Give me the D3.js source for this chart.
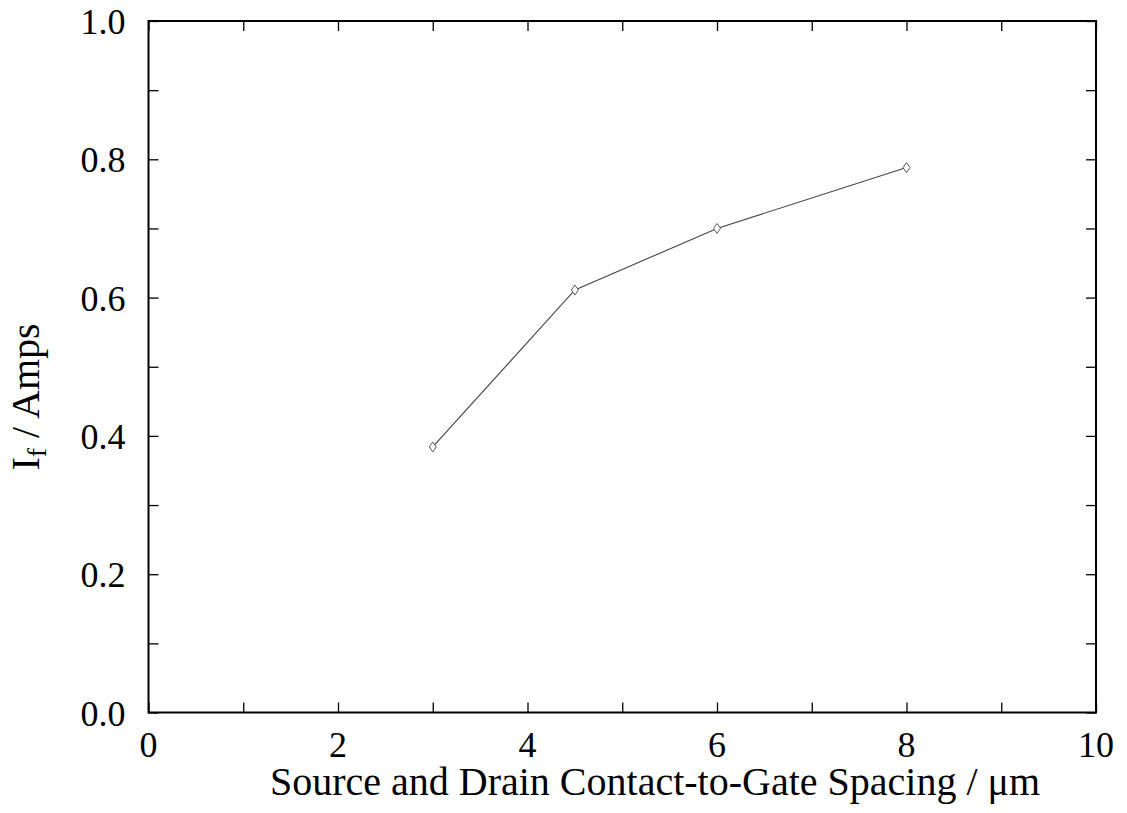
<!DOCTYPE html>
<html>
<head>
<meta charset="utf-8">
<script src="https://cdn.jsdelivr.net/npm/d3@7"></script>
<style>
  html, body { margin: 0; padding: 0; background: #fff; }
  svg { display: block; }
  text { font-family: "Liberation Serif", "Times New Roman", serif; fill: #000; }
</style>
</head>
<body>
<svg id="chart" width="1127" height="813"></svg>
<script>
// Contact-to-gate spacing (µm) and measured current (A)
const spacing = [3, 4.5, 6, 8];
const current = [0.384, 0.611, 0.700, 0.788];
const xTickLabels = [0, 2, 4, 6, 8, 10];
const yTickLabels = [0.0, 0.2, 0.4, 0.6, 0.8, 1.0];

const W = 1127, H = 813;
const margin = { left: 148.5, right: W - 1096, top: 21, bottom: H - 712.5 };

const svg = d3.select("#chart");

const x = d3.scaleLinear().domain([0, 10]).range([margin.left, W - margin.right]);
const y = d3.scaleLinear().domain([0, 1]).range([H - margin.bottom, margin.top]);

const tickLen = 10;
const tickFont = 36;
const titleFont = 40;

// Frame
svg.append("rect")
  .attr("x", x(0)).attr("y", y(1))
  .attr("width", x(10) - x(0)).attr("height", y(0) - y(1))
  .attr("fill", "none").attr("stroke", "#000").attr("stroke-width", 2);

// Inward ticks on all four sides
const xMinor = d3.range(0, 11, 1);
const yMinor = d3.range(0, 11, 1).map(d => d / 10);

const bottomAxis = d3.axisBottom(x).tickValues(xMinor).tickSize(-tickLen).tickFormat("");
const topAxis = d3.axisTop(x).tickValues(xMinor).tickSize(-tickLen).tickFormat("");
const leftAxis = d3.axisLeft(y).tickValues(yMinor).tickSize(-tickLen).tickFormat("");
const rightAxis = d3.axisRight(y).tickValues(yMinor).tickSize(-tickLen).tickFormat("");

function styleAxis(g) {
  g.select(".domain").remove();
  g.selectAll(".tick line").attr("stroke", "#000").attr("stroke-width", 1.3);
}

svg.append("g").attr("transform", `translate(0,${y(0)})`).call(bottomAxis).call(styleAxis);
svg.append("g").attr("transform", `translate(0,${y(1)})`).call(topAxis).call(styleAxis);
svg.append("g").attr("transform", `translate(${x(0)},0)`).call(leftAxis).call(styleAxis);
svg.append("g").attr("transform", `translate(${x(10)},0)`).call(rightAxis).call(styleAxis);

// Tick labels
svg.append("g").selectAll("text")
  .data(xTickLabels)
  .join("text")
  .attr("x", d => x(d))
  .attr("y", y(0) + 44)
  .attr("text-anchor", "middle")
  .attr("font-size", tickFont)
  .text(d => d);

svg.append("g").selectAll("text")
  .data(yTickLabels)
  .join("text")
  .attr("x", x(0) - 23)
  .attr("y", d => y(d) + 13)
  .attr("text-anchor", "end")
  .attr("font-size", tickFont)
  .text(d => d.toFixed(1));

// Axis titles
svg.append("text")
  .attr("x", 655)
  .attr("y", 795)
  .attr("text-anchor", "middle")
  .attr("font-size", titleFont)
  .text("Source and Drain Contact-to-Gate Spacing / μm");

const yTitle = svg.append("text")
  .attr("transform", `translate(39,397) rotate(-90)`)
  .attr("text-anchor", "middle")
  .attr("font-size", titleFont);
yTitle.append("tspan").text("I");
yTitle.append("tspan").attr("font-size", titleFont * 0.7).attr("dy", 7).text("f");
yTitle.append("tspan").attr("dy", -7).text(" / Amps");

// Data line
const pts = spacing.map((s, i) => [s, current[i]]);
svg.append("path")
  .datum(pts)
  .attr("d", d3.line().x(d => x(d[0])).y(d => y(d[1])))
  .attr("fill", "none")
  .attr("stroke", "#444")
  .attr("stroke-width", 1.1);

// Diamond markers
svg.append("g").selectAll("path")
  .data(pts)
  .join("path")
  .attr("transform", d => `translate(${x(d[0])},${y(d[1])})`)
  .attr("d", "M0,-5L3.5,0L0,5L-3.5,0Z")
  .attr("fill", "#fff")
  .attr("stroke", "#555")
  .attr("stroke-width", 1);
</script>
</body>
</html>
